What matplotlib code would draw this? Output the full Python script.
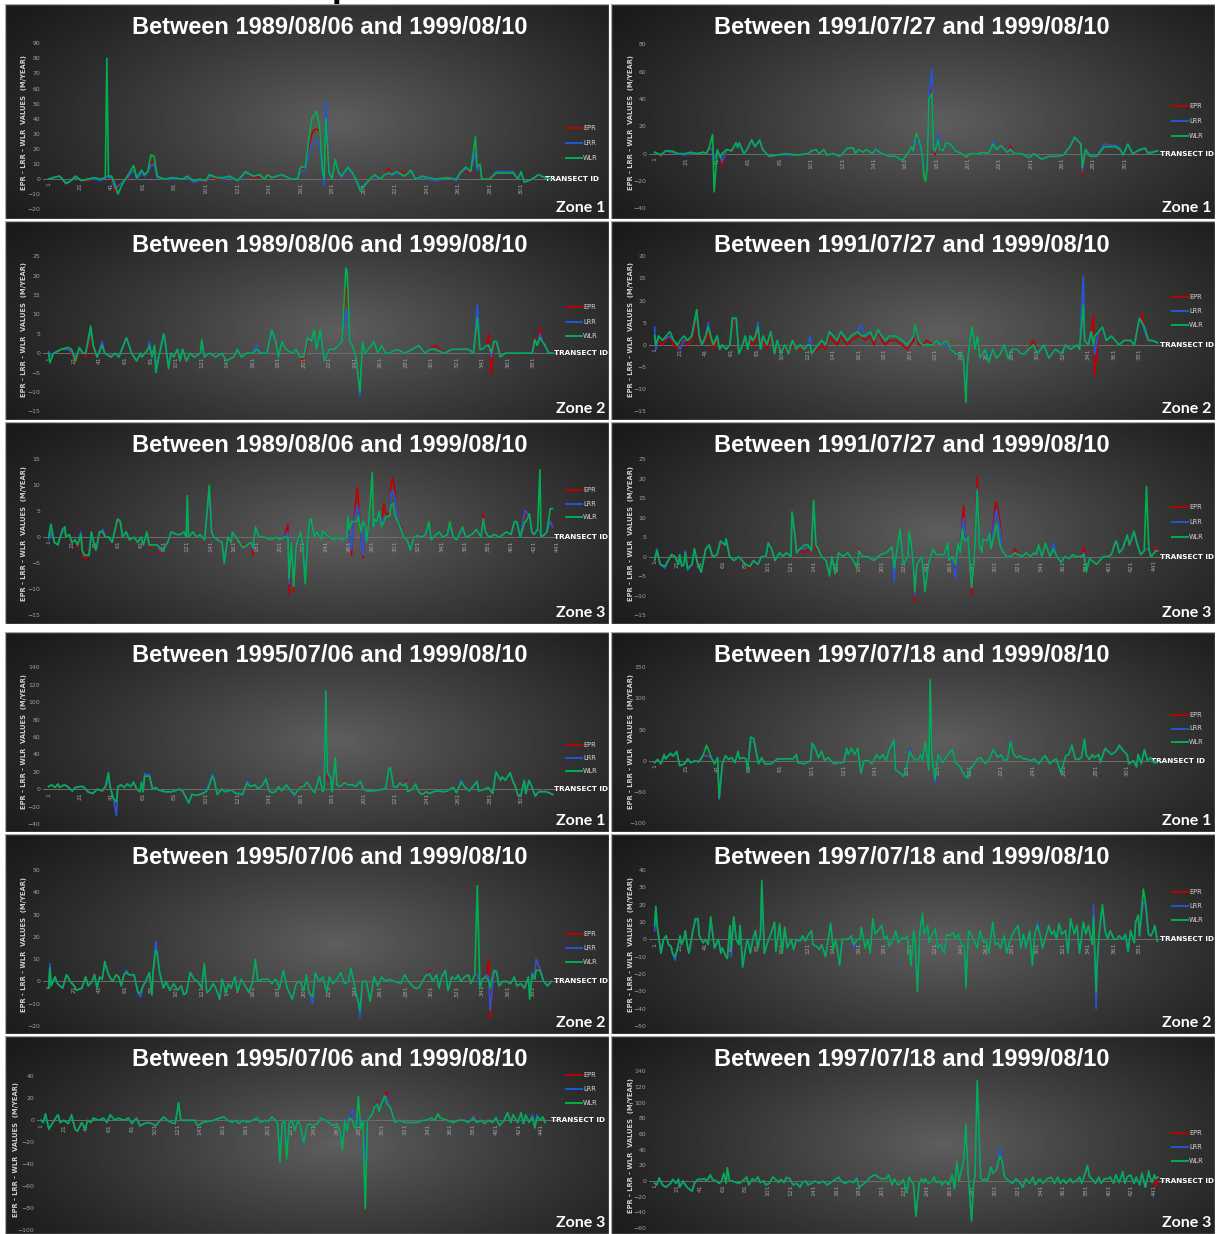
import numpy as np
import matplotlib
matplotlib.use("Agg")
import matplotlib.pyplot as plt
from matplotlib.lines import Line2D
from matplotlib.patches import Rectangle
import matplotlib.transforms as mtrans

# ---------------- DATA: rows are (transect id, EPR, LRR, WLR) ----------------
P1989_Z1 = [
    (1,0,0,0),(4,1,1,1),(8,2,2,2),(12,-3,-2,-3),(14,-2,-2,-2),(18,2,1,2),(22,-1,-1,-1),(26,-1,0,0),
    (30,0,0,1),(34,0,-1,0),(37,1,1,1),(38,2,2,80),(39,1,1,2),(41,0,1,2),(43,-8,-6,-3),(45,-4,-5,-10),
    (48,-2,-2,-3),(51,0,1,2),(55,7,6,9),(57,0,0,1),(60,5,4,6),(62,2,2,3),(64,6,5,5),(66,10,9,16),
    (68,14,10,15),(70,1,1,2),(74,0,0,0),(80,0,0,1),(86,0,0,0),(89,1,1,2),(93,-2,-2,-1),(97,-1,-1,0),
    (101,-2,-1,-1),(103,2,2,3),(108,0,1,1),(112,0,0,1),(116,1,1,2),(121,-1,-1,-1),(126,4,4,5),(131,1,2,2),
    (135,2,3,3),(138,0,0,0),(140,4,3,3),(143,1,1,1),(149,3,3,3),(155,0,0,0),(159,0,0,0),(161,6,5,8),
    (164,7,6,8),(168,30,24,40),(170,33,26,43),(171,33,26,45),(173,32,24,35),(175,5,3,5),(176,-2,-4,0),
    (177,30,52,40),(179,3,3,5),(181,0,0,0),(183,11,12,13),(185,4,4,5),(187,1,1,2),(191,7,7,8),(194,3,3,4),
    (196,0,0,0),(199,-7,-6,-8),(201,-4,-4,-5),(205,0,0,0),(208,3,2,3),(212,0,0,0),(214,3,2,3),(217,7,5,4),
    (219,3,2,3),(222,5,4,5),(227,4,2,2),(231,5,5,6),(234,0,0,0),(238,1,1,2),(242,1,0,1),(247,0,-1,0),
    (254,1,1,1),(260,0,-1,0),(262,3,3,4),(266,6,7,8),(269,4,5,5),(272,20,18,28),(273,7,6,8),(275,9,8,10),
    (276,0,0,0),(281,1,0,0),(285,4,5,4),(291,4,5,4),(296,5,5,4),(299,0,0,0),(301,4,4,5),(303,-2,-2,-2),
    (308,0,0,0),(312,3,3,3),(316,1,1,1),(320,0,0,0),
]

P1991_Z1 = [
    (1,1,1,1),(3,0,0,0),(5,-2,-1,-1),(8,2,2,2),(12,1,1,2),(16,0,0,0),(20,-1,-1,0),(24,1,0,1),(28,0,0,0),
    (32,1,1,1),(34,0,0,0),(36,4,4,5),(38,2,3,14),(39,-3,-4,-28),(41,2,2,3),(43,-3,-2,-3),(44,-9,-6,0),
    (47,3,3,3),(50,2,2,2),(53,7,7,8),(54,4,4,5),(55,7,7,8),(58,0,0,0),(60,3,3,3),(63,9,10,10),(65,5,5,5),
    (68,9,9,10),(70,3,3,3),(74,-2,-2,-2),(79,-1,-1,-1),(85,0,-1,0),(92,-1,-1,-1),(99,0,0,0),(101,2,2,2),
    (104,3,3,3),(106,0,0,0),(109,3,3,3),(111,-1,-1,-1),(115,0,0,0),(119,-2,-2,-2),(121,0,0,0),(124,4,4,4),
    (128,4,4,4),(129,0,0,0),(131,3,3,3),(134,1,1,1),(136,3,3,3),(140,0,0,0),(142,3,4,3),(146,0,0,0),
    (151,-2,-2,-2),(155,-2,-2,-2),(159,-5,-5,-5),(162,-1,-1,-1),(165,5,4,5),(166,2,2,2),(168,12,10,15),
    (171,5,4,5),(172,-3,-3,-3),(173,-10,-10,-18),(174,-9,-9,-20),(175,-10,-10,-10),(176,38,40,40),
    (178,50,62,44),(179,3,4,3),(180,-1,1,2),(182,12,14,10),(183,3,3,3),(185,2,2,2),(187,8,8,8),(190,7,6,7),
    (193,2,2,2),(197,0,0,0),(200,-4,-3,-3),(202,0,0,0),(207,0,0,0),(211,1,1,1),(214,0,0,0),(217,8,9,7),
    (219,3,3,3),(222,6,6,6),(226,1,1,1),(228,6,4,3),(231,0,0,0),(235,0,0,0),(240,-3,-3,-3),(243,0,0,0),
    (248,-4,-4,-4),(253,-2,-2,-2),(258,-2,-2,-2),(262,-1,-1,-1),(266,5,5,5),(269,10,11,12),(273,7,7,7),
    (274,-16,-13,-10),(276,3,3,3),(279,-2,-2,-2),(283,-2,-2,-2),(288,6,7,5),(293,5,6,5),(295,5,6,5),
    (298,3,4,3),(300,-1,-1,-1),(303,7,7,7),(306,0,0,0),(311,3,3,3),(314,4,4,4),(316,0,1,0),(322,2,2,2),
]

P1989_Z2 = [
    (1,0,0.5,0),(2,-1,-1,-2.5),(5,0,0,0),(11,1,1,1),(16,1,1,1.5),(19,0,0.5,1),(22,-2.5,-1,-2),(25,1,1,1.5),
    (28,0,0,0),(30,-1,0,0),(34,5,6,7),(36,1,2,2),(39,-1,-1,-1),(43,2,3,2),(45,0,0,0),(50,-1,-1,-1),
    (53,0,0,0),(56,-1,-1,-1),(62,4,4,4),(63,3,3,3),(66,0,0,0),(70,-2,-2,-2),(73,0,0,0),(74,-1,-1,-1),
    (79,1,1,1),(80,2,3,2),(82,-1,-1,-1),(84,2,2,2),(85,-3,-3,-5),(88,0,0,0),(91,4,4,5),(92,4,4,4),
    (95,-3,-3,-4),(97,0,0,0),(99,-1,-1,-1),(102,0,1,1),(104,-2,-2,-2),(106,1,1,1),(109,-2,-2,-2),
    (112,0,0,0),(115,-1,-1,-1),(120,0,0,0),(121,3,3,3.5),(123,-1,-1,-1),(127,0,0,0),(132,-1,-1,-1),
    (137,0,0,0),(140,-2,-2,-2),(146,-1,-1,-1),(149,1,1,1),(152,-1,-1,-1),(156,0,0,0),(161,0,0,0),
    (164,1,2,1),(167,0,0,0),(172,0,0,0),(176,5,5,6),(179,3,3,3),(181,-1,-1,-1),(184,3,3,3),(187,1,1,1),
    (192,0,0,0),(195,1,1,1),(198,-1,-1,-1),(201,-2,-1,-1),(204,3,4,4),(207,3,3,3),(209,5,5,6),(211,1,1,1),
    (214,5,5,6),(217,-2,-2,-2),(221,1,1,1),(225,1,1,1),(228,2,2,2),(231,3,3,3),(234,17,11,22),
    (235,16,11,21),(237,3,3,3),(239,2,2,2),(242,-1,-1,-1),(245,-9,-11,-10),(247,3,3,3),(249,0,0,0),
    (254,2,2,2),(256,3,3,3),(259,0,0,0),(262,2,2,2),(265,0,0,0),(268,0,0,0),(274,1,1,1),(280,0,0,0),
    (286,1,1,1),(291,2,2,2),(296,0,0,0),(300,1,1,1),(304,2,1,1),(311,0,0,0),(317,1,1,1),(323,1,1,1),
    (330,1,1,1),(334,0,0,0),(337,8,12.5,9),(339,1,1,1),(341,1,1,1),(344,2,2,2),(346,5,2,2),
    (348,-5.5,-1,0),(350,3,3,3),(352,3,3,3),(355,-1,-1,-1),(359,0,0,0),(365,0,0,0),(372,0,0,0),
    (378,0,0,0),(380,0,0,0),(382,4,3.5,3.5),(384,2,2,2),(386,6.5,5,4),(388,3,3,3),(390,2,2,2),
    (393,0,0,0),(396,0,0,0),
]

P1991_Z2 = [
    (1,2,4,2),(2,0,-1,0),(4,1,2,2),(7,0,1,1),(13,2,2,3),(16,0,1,1),(19,-1,0,0),(21,0,-1,1),(24,1,1,2),
    (27,0,1,1),(30,1,2,2),(34,6,7,8),(36,1,2,2),(38,0,0,0),(41,1,2,2),(43,3,5,4),(45,1,2,2),(47,-1,0,0),
    (50,1,2,2),(52,-1,-1,-1),(54,0,0,0),(57,-1,-1,-1),(60,0,0,0),(62,5,6,6),(65,5,6,6),(67,-2,-2,-2),
    (70,0,0,0),(72,1,2,2),(74,-1,-1,-1),(76,1,2,2),(78,0,1,1),(80,1,2,2),(82,3,5,4),(84,-1,-1,-1),
    (86,1,2,2),(89,-1,0,0),(92,2,3,3),(95,-2,-2,-2),(97,0,1,1),(100,-2,-2,-2),(103,-1,0,0),(106,-2,-2,-2),
    (109,0,1,1),(112,-1,-1,-1),(115,-1,0,0),(118,-1,-1,-1),(121,0,0,0),(123,1,2,0),(124,-2,-2,-2),
    (129,-1,0,0),(132,0,1,1),(135,-1,0,0),(138,2,3,3),(141,1,2,2),(144,0,1,1),(147,2,3,3),(152,0,1,1),
    (155,1,2,2),(160,2,3,3),(163,2,4.5,2),(166,1,2,2),(170,2,3,3),(173,0,1,1),(176,3,3,3.5),(179,1,2,2),
    (182,0,1,1),(185,1,2,2),(190,1,2,2),(195,0,1,1),(199,-1,0,0),(204,1,2,2),(205,4,4,4.5),(208,0,1,1),
    (211,0,0,0),(214,1,0,0),(219,0,0,0),(222,1,1,1),(225,0,0,0),(230,1,0,1),(233,-1,-1,-1),
    (237,-2,-2,-2),(242,-2,-2,-2),(243,-3,-3,-3),(245,-12,-11,-13),(246,-5,-5,-5),(248,1,1,1),
    (250,3,3,4),(252,-1,-1,-1),(254,2,2,2),(256,-3,-3,-3),(260,-1,-1,-1),(263,-4,-3,-4),(266,-1,-1,-1),
    (269,-3,-3,-3),(272,-2,-2,-2),(275,0,0,0),(278,-3,-3,-3),(281,-1,-1,-1),(285,-1,-1,-1),
    (288,-2,-2,-2),(291,-2,-2,-2),(294,-1,-1,-1),(298,1,0,0),(301,-2,-2,-2),(306,0,0,0),(310,-3,-3,-3),
    (315,-1,-1,-1),(320,-2,-2,-2),(323,0,0,0),(327,-1,-1,-1),(332,0,0,0),(334,-1,-1,-1),(337,9,15.5,9),
    (338,1,1,1),(341,0,0,0),(343,3,3,3),(345,6.5,1,0),(346,-7,-2,2),(349,3,3,3),(352,4,4,4),(355,1,1,1),
    (359,2,2,2),(362,1,1,1),(365,0,0,0),(369,1,1,1),(374,1,1,1),(377,0,0,0),(379,3,3,3),(381,5,6,6),
    (383,7,5,5),(385,4,3,4),(388,1,1,1),(391,1,1,1),(395,0.5,0.5,0.5),
]

P1989_Z3 = [
    (1,0,-0.5,0),(3,1,1,2.5),(6,-1,-1,-1),(9,-1.5,-1.5,-1.5),(11,0,0,0),(13,1,1,1.5),(15,1.5,1.5,2),
    (16,0,0,0),(19,0,0.5,0.5),(21,-1,-1,-1),(24,-0.5,-0.5,-0.5),(26,-2,-1.5,-1.5),(29,0,1,0.5),
    (30,-3,-2.5,-2.5),(32,-4.2,-3.5,-3.5),(36,-3.5,-3.5,-3.5),(38,1,1,1),(40,-1,-1,-1),(42,-2.5,-2.5,-2.5),
    (45,0.5,1,1),(48,1,1.5,1),(50,0,0,0),(53,0,0,0),(56,-1,-1,-1),(60,2.5,3,3),(61,3,3.5,3.5),(63,2.5,3,3),
    (65,0,0,0),(68,1,1,1),(71,-0.5,-0.5,-0.5),(75,0,0,0),(78,-1,-1,-1),(81,0,0,0),(83,-1.5,-1.5,-1.5),
    (86,1,1,1),(88,-2,-1.5,-1.5),(92,-1.5,-1.5,-1.5),(95,-1.5,-1.5,-1.5),(97,-3,-2.5,-2),(100,-2.5,-2.5,-2.5),
    (104,-1,-1,-1),(107,1,1,1),(112,0.5,0.5,0.5),(115,0.5,0.5,0.5),(118,1,1,1),(120,0,0,0),(121,7,7,8),
    (122,0,0,0),(126,1,1,1),(129,0,0,0),(132,0.5,0.5,0.5),(136,-0.5,-0.5,-0.5),(140,9,9,10),(142,1,1,1),
    (144,0,0,0),(147,-0.5,-0.5,-0.5),(151,-1,-1,-1),(153,-4,-4,-5),(156,0,0,0),(159,-1,-1,-1),(160,1,1,1),
    (163,0,0,0),(166,-1,-1,-1),(169,-1.5,-2,-2),(173,-1.5,-1.5,-1.5),(176,-1,-1,-1),(178,-3.5,-2.5,-2),
    (180,2,2,2),(183,0,0,0),(188,0,0,0),(193,-0.5,-0.5,-0.5),(198,0,0,0),(201,-0.5,-0.5,-0.5),(205,0,0,0),
    (208,2.5,1,0),(209,-11,-9,-8),(211,-1,-1,-1),(213,-10.5,-9.5,-9.5),(215,-2,-2,-2),(216,-1,-1,-1),
    (219,1,1,1),(221,-2,-2,-2),(223,-8,-8,-9),(225,-1,-1,-1),(227,3,3,3.5),(228,3,3,3.5),(231,0,0,0),
    (233,1,1,1),(237,-0.5,-0.5,-0.5),(238,1.2,1.2,1.2),(241,0.5,0.5,0.5),(243,0.2,0.2,0.2),
    (247,-0.5,-0.5,-0.5),(252,0,0,0),(255,-0.5,-0.5,-0.5),(259,0,0,0),(260,3,3,4),(261,1.5,1.5,1.5),
    (263,-3.5,-2.5,3),(265,3,3,3),(268,9.5,6,3),(269,7,5.5,4),(271,1,1,1),(273,-4,-3.5,3),(275,2,2,2),
    (276,-1,-1,-1),(278,3,3,3),(281,3,3,12.5),(282,2,2,2),(283,3.5,3.5,3.5),(285,3,3,3),(287,5,5,5),
    (289,2,2,2),(291,6.5,4,3),(293,4,4,4),(296,5,4,4),(297,10,8.5,6),(299,11.5,9,6.5),(301,8,7,4),
    (303,3,3,3),(306,2,1.5,1.5),(308,0,0,0),(311,-0.5,-0.5,-0.5),(314,-2,-2,-2.5),(317,0,0,0),
    (320,0.3,0.3,0.3),(324,0,0,0),(327,0.5,0.5,0.5),(330,2,2,3),(332,-0.5,-0.5,-0.5),(336,0.5,0.5,0.5),
    (339,1,1,1),(342,0,0,0),(346,0.5,0.5,0.5),(348,3,2.5,3),(351,0,0,0),(354,-0.5,-0.5,-0.5),(359,2,1.5,2),
    (362,0,0,0),(367,0.5,0.5,0.5),(371,1.5,1.5,1.5),(375,0,0,0),(377,4.5,3.5,3.5),(379,1,1,1),(382,0,0,0),
    (387,0.5,0.5,0.5),(391,0,0,0),(394,0.5,0.5,0.5),(397,1,1,1),(401,0.5,0.5,0.5),(404,3,3,3),(406,3,3,3),
    (409,0,0,0),(413,4,5,3),(414,4.5,5,3),(417,4,4,4.5),(419,1,1,1),(421,0.5,0.5,0.5),(424,1.5,1.5,1.5),
    (426,1,1,13),(427,0,0,0),(430,0.5,0.5,0.5),(432,1,1,1),(435,3,3,5.5),(437,2.5,2,5.5),
]

P1991_Z3 = [
    (1,-1,-1,-1),(3,1,2,1.5),(6,-2,-2,-2),(10,-2.5,-3,-2.5),(13,-1,-1,-1),(16,0.5,0.5,0.5),(19,0,0,0),
    (22,-2,-2,-2),(23,0.5,0.5,0.5),(25,-2.5,-2.5,-2.5),(27,-2,-2,-2),(28,1,1.5,1),(30,-3,-3.5,-3),
    (34,-2,-2,-2),(36,2,2,2),(39,-2,-2,-2),(42,-4,-4,-4),(46,2,2,2),(49,3,3,3),(52,0,0,0),(56,0.5,0.5,0.5),
    (59,3.5,4,4),(63,3,3,3),(64,4,4.5,4.5),(67,0,0,0),(71,-1,-1,-1),(75,0,0,0),(78,-1,-1,-1),(81,-2,-2,-2),
    (85,-3,-2.5,-2.5),(88,-1,-1,-1),(92,-2,-2,-2),(95,0,0,0),(99,0,0,0),(101,3,3.5,3.5),(104,2,2,2),
    (107,-1,-1,-1),(111,1,1,1),(114,0,0,0),(117,1,1,1),(121,0,0,0),(122,10,10.5,11.5),(124,6,6.5,7),
    (126,1,1,1),(129,1.5,2,2),(133,1,2,3),(136,2,2.5,3),(139,1,1.5,1.5),(141,13,13.5,14.5),(143,2,3,3),
    (145,1.5,2,2),(148,0,0,0),(152,-1,-1,-1),(155,-4.5,-4.5,-5),(157,0,0,0),(160,-5,-4.5,-4.5),(163,1,1,1),
    (167,0,0,0),(171,1,1,1),(176,-1,-1,-1),(179,-3.5,-3,-3),(181,2,1.5,1.5),(184,0,0,0),(189,0,0,0),
    (194,-1,-1,-1),(200,0.5,0.5,0.5),(205,1,1,1),(210,2.5,2.5,2.5),(212,-5,-6.5,-3),(213,-1,-1,-1),
    (217,6.5,6.5,7),(220,-2,-2,-2),(224,0,0,0),(225,6,6,6.5),(227,3,3,3),(229,-3,-3,-3),(230,-11.5,-10,-9),
    (232,-2,-2,-2),(236,0,0,0),(237,-2,-2,-2),(239,-8.5,-8,-9),(242,-2,-2,-2),(244,0,0,0),(246,2,2,2),
    (249,0.5,0.5,0.5),(253,0.5,0.5,0.5),(256,0.5,0.5,0.5),(259,3,3,3.5),(260,-1,-1,-1),(263,0,0,0),
    (266,-4,-5.5,-2),(268,3.5,3.5,3.5),(270,1,1,1),(272,9.5,8,7),(273,13,10,4.5),(275,4,4,4),(277,5,5,5),
    (278,0,0,0),(280,-10,-8,-8),(282,-2,-2,-2),(283,3,3,3),(285,20.5,17.5,17),(287,3,3,3),(289,1,1,1),
    (290,4.5,4.5,4.5),(294,4,4,4),(296,6,6.5,6),(297,2,2,2),(301,13.5,11,7),(302,14,12,8.5),(305,9,7,3),
    (307,1.5,1.5,1.5),(311,0,0,0),(314,0,0,0),(318,2,1,1),(321,0.5,0.5,0.5),(325,0,0,0),(328,1,1,1),
    (332,0,0,0),(335,1,1,1),(337,0.5,0.5,0.5),(339,2.5,2.5,3),(342,0,0,0),(345,3,3,3.5),(349,0,0,0),
    (352,2.5,3.5,2),(355,0,0,0),(359,-1.5,-1.5,-1.5),(362,0,0,0),(366,-0.5,-0.5,-0.5),(369,0.5,0.5,0.5),
    (372,0,0,0),(376,0,0,0),(379,2.5,1,0.5),(381,-3.5,-3.5,-4),(384,-0.5,-0.5,-0.5),(386,-1,-1,-1),
    (390,-2,-2,-2),(393,-1,-1,-1),(396,0,0,0),(400,0,0,0),(403,0.5,0.5,0.5),(407,3.5,4,4),(408,3,3.5,3.5),
    (410,1,1,1),(413,2,2,2),(417,5,5.5,5.5),(419,3,3,3),(423,6,6,6.5),(426,3,3,3),(429,0.5,0.5,0.5),
    (432,1.5,1.5,1.5),(434,2,2,18),(436,2,2,2),(438,0,0,0),(441,1,1,1),(442,2.5,1.5,1.5),(444,1.5,1.5,1.5),
]

P1995_Z1 = [
    (1,3,3,3),(3,5,5,5),(5,2,2,2),(7,5,6,6),(8,2,2,2),(11,5,5,5),(13,3,3,3),(16,-2,-2,-2),(18,2,2,2),
    (21,3,3,3),(23,3,3,3),(26,-3,-3,-3),(29,-5,-5,-5),(32,0,0,0),(35,-3,-2,-2),(37,1,2,3),(39,10,12,19),
    (40,2,3,3),(42,-10,-10,-10),(44,-28,-30,-15),(45,2,3,3),(47,4,5,5),(49,2,2,2),(51,5,6,6),(53,3,3,3),
    (55,7,8,8),(57,0,0,0),(59,-4,-3,-3),(60,7,8,8),(61,-3,-3,-3),(62,15,18,15),(65,14,16,15),(67,0,0,0),
    (69,2,2,2),(71,-1,-1,-1),(75,-3,-3,-3),(79,-3,-3,-3),(84,0,0,0),(86,-2,-2,-2),(90,-15,-15,-16),
    (92,-6,-6,-6),(95,-7,-7,-7),(97,-6,-6,-6),(100,-4,-4,-4),(102,-1,2,-1),(105,15,17,15),(106,12,13,12),
    (108,-6,-6,-6),(111,0,0,0),(113,-3,-3,-3),(117,-1,-1,-1),(120,-5,-5,-5),(122,-5,-5,-5),(124,-6,-7,-6),
    (127,7,9,7),(129,3,3,3),(132,5,5,5),(134,0,0,0),(137,5,5,5),(139,10,10,12),(141,-2,-2,-2),
    (143,-4,-4,-4),(145,-3,-3,-3),(147,3,3,3),(149,-2,-2,-2),(152,4,5,5),(154,0,0,0),(157,-6,-8,-6),
    (159,-2,-2,-2),(161,5,3,3),(163,3,3,3),(165,7,8,8),(168,0,0,0),(170,-4,-4,-4),(173,14,15,15),
    (175,-3,-3,-3),(176,0,0,0),(177,110,112,113),(178,12,18,20),(180,10,12,14),(181,-3,-3,-3),
    (183,28,30,36),(184,5,5,5),(186,3,3,3),(189,10,8,8),(191,5,5,5),(194,5,5,5),(196,3,3,3),(199,8,8,9),
    (201,0,0,0),(203,-2,-2,-2),(207,-2,-2,-2),(211,-1,-1,-1),(215,1,1,1),(217,22,22,23),(218,24,24,25),
    (220,3,3,3),(222,2,2,2),(224,7,7,7),(226,4,4,4),(228,11,8,6),(229,-3,-3,-3),(232,0,0,0),(234,6,6,6),
    (236,-3,-3,-3),(238,-6,-6,-6),(241,-3,-3,-3),(243,-5,-5,-5),(245,-3,-3,-3),(248,-2,-2,-2),
    (252,-3,-3,-3),(254,-2,-2,-2),(258,2,2,2),(260,-4,-4,-4),(263,8,10,8),(265,3,3,3),(268,-2,-2,-2),
    (270,2,2,2),(273,9,9,9),(274,-2,-2,-2),(278,0,0,0),(280,2,2,2),(283,-5,-5,-5),(285,19,19,20),
    (288,10,11,10),(289,13,14,14),(291,10,11,10),(294,18,18,19),(296,8,8,8),(297,5,5,5),(299,-7,-7,-7),
    (301,-6,-6,-6),(303,10,10,10),(304,-5,-5,-5),(306,10,10,10),(308,2,2,2),(310,-8,-8,-8),(312,-3,-3,-3),
    (315,-1,-2,-3),(317,-3,-3,-3),(321,-6,-6,-6),
]

P1997_Z1 = [
    (1,-3,-3,-3),(3,2,2,2),(5,-5,-5,-5),(7,9,9,10),(8,3,3,3),(11,10,10,12),(13,7,7,8),(15,14,14,15),
    (17,-8,-8,-8),(20,-5,-5,-5),(22,3,3,3),(24,-3,-3,-3),(27,0,0,0),(29,-2,-2,-2),(32,8,8,10),(34,10,8,25),
    (37,5,5,5),(39,-5,-5,-5),(41,5,5,5),(42,-62,-62,-60),(44,-5,-5,-5),(46,8,8,8),(48,2,2,2),(50,5,5,5),
    (52,-3,-3,-3),(54,13,13,15),(55,3,3,3),(57,5,5,5),(59,3,3,3),(60,-15,-15,-15),(62,30,30,38),
    (64,30,30,35),(67,-5,-5,-5),(69,5,5,5),(71,-5,-5,-5),(75,-5,-5,-5),(79,3,3,3),(84,3,3,3),(89,3,3,3),
    (91,8,8,10),(92,-3,-3,-3),(96,-5,-5,-5),(100,0,0,0),(101,25,25,28),(103,18,18,20),(105,5,5,5),
    (107,13,13,15),(109,0,0,0),(111,5,5,5),(115,-5,-5,-5),(118,-3,-3,-3),(121,-3,-3,-3),(123,15,15,20),
    (124,10,10,10),(126,18,18,20),(128,12,12,10),(130,18,18,20),(132,-18,-18,-20),(134,0,0,0),(137,0,0,0),
    (139,-5,-5,-5),(142,8,8,10),(144,3,3,3),(146,8,8,10),(148,0,0,0),(150,15,15,18),(153,30,30,33),
    (154,-15,-15,-15),(157,-20,-20,-20),(159,-25,-25,-25),(161,-10,-10,-10),(163,20,20,15),(165,5,5,5),
    (168,0,0,0),(170,10,10,10),(171,0,0,0),(173,25,25,30),(175,-12,-12,-15),(176,120,120,130),
    (177,10,10,10),(179,-36,-36,-30),(181,10,10,10),(184,-3,-3,-3),(186,5,5,5),(189,14,14,15),
    (190,17,17,18),(192,-3,-3,-3),(195,-10,-10,-10),(198,-22,-22,-25),(200,-28,-28,-28),(201,-12,-12,-15),
    (204,-5,-5,-5),(206,3,3,3),(208,5,5,5),(211,-5,-5,-5),(214,5,5,5),(216,16,16,18),(219,5,5,5),
    (221,10,10,10),(223,0,0,0),(225,2,2,2),(227,30,32,30),(229,10,10,10),(231,5,5,5),(233,8,8,8),
    (235,3,3,3),(237,3,3,3),(240,0,0,0),(242,3,3,3),(245,-5,-5,-5),(247,3,3,3),(249,8,8,8),(252,-5,-5,-5),
    (254,0,0,0),(256,3,3,3),(259,-18,-18,-20),(262,8,8,8),(264,10,10,10),(266,22,22,25),(268,3,3,3),
    (270,2,2,2),(272,5,5,5),(274,30,30,35),(275,10,10,10),(277,2,2,2),(279,10,10,10),(280,5,5,5),
    (283,10,10,10),(284,-3,-3,-3),(287,18,18,20),(289,15,15,15),(291,10,10,10),(294,15,15,15),
    (296,22,22,25),(299,15,15,15),(301,10,10,10),(302,-5,-5,-5),(305,0,0,0),(307,-10,-10,-10),
    (308,10,10,10),(310,-5,-5,-5),(312,16,16,18),(314,0,0,0),(316,5,5,5),(318,-3,-3,-3),(320,-3,-3,-3),
]

P1995_Z2 = [
    (1,-3,-3,-3),(2,5,8,6),(3,-2,-2,-2),(6,2,2,2),(8,-1,-1,-1),(12,-3,-3,-3),(15,3,3,3),(18,0,0,0),
    (21,-2,-2,-2),(23,-4,-4,-4),(27,-3,-3,-3),(30,2,2,2),(32,-2,-2,-2),(35,0,0,0),(37,4,3,3),(39,-3,-3,-3),
    (41,2,2,2),(43,1,1,1),(45,8,8,9),(48,3,3,3),(51,0,0,0),(54,3,3,3),(56,2,2,2),(58,-2,-2,-2),(60,3,3,3),
    (62,4,5,4),(64,3,3,3),(68,3,3,3),(71,-5,-5,-5),(73,-6,-7,-5),(75,-2,-2,-2),(77,0,0,0),(80,4,4,4),
    (82,-6,-6,-6),(83,5,5,5),(85,16,18,14),(86,13,13,13),(88,4,4,4),(91,-3,-3,-3),(93,0,0,0),(96,-4,-4,-4),
    (99,-1,-1,-1),(102,-4,-4,-4),(105,-2,-2,-2),(107,-6,-6,-6),(109,-5,-5,-5),(112,4,4,4),(115,1,1,1),
    (118,0,0,0),(121,-3,-3,-3),(123,7,7,8),(125,-5,-5,-5),(127,-4,-4,-4),(130,-1,-1,-1),(132,-3,-3,-3),
    (135,-8,-8,-8),(137,1,1,1),(140,-5,-5,-5),(142,-1,-1,-1),(144,-3,-3,-3),(147,2,2,2),(149,-6,-5,-5),
    (152,1,1,1),(155,-2,-2,-2),(158,-5,-5,-5),(161,0,0,0),(163,9,9,10),(165,0,0,0),(168,1,1,1),(170,1,1,1),
    (173,1,1,1),(176,-1,-1,-1),(179,1,1,1),(182,-3,-3,-3),(185,5,5,5),(188,-3,-3,-3),(192,-8,-8,-8),
    (195,-1,-1,-1),(198,0,0,0),(201,-4,-4,-4),(203,3,3,3),(205,-5,-5,-5),(208,-8,-10,-7),(210,4,4,4),
    (213,0,0,0),(216,2,2,2),(219,-5,-5,-5),(221,2,2,2),(224,-1,-1,-1),(227,1,1,1),(230,4,4,4),
    (233,-1,-1,-1),(236,0,0,0),(238,5,5,6),(241,-3,-3,-3),(244,-10,-10,-10),(245,-14,-16,-13),(247,0,0,0),
    (250,0,0,0),(253,-8,-8,-9),(256,2,2,2),(259,-2,-2,-2),(262,2,2,2),(265,0,0,0),(268,1,1,1),(272,0,0,0),
    (277,-1,-1,-1),(280,3,3,3),(283,0,0,0),(288,-3,-3,-3),(291,-3,-3,-3),(294,0,0,0),(297,3,3,3),
    (300,5,4,3),(302,0,0,0),(305,3,3,3),(307,-3,-3,-3),(309,2,2,2),(312,4,4,5),(314,-4,-4,-4),(317,2,2,2),
    (320,1,1,1),(322,3,3,3),(324,0,0,0),(327,2,2,2),(330,3,3,3),(332,-1,-1,-1),(335,3,3,3),(337,3,3,43),
    (339,-3,-3,-3),(341,1,1,1),(344,2,3,2),(346,10,2,0),(347,-17,-13,-3),(350,4,4,5),(352,4,5,4),
    (354,-2,-2,-2),(357,0,0,0),(360,0,0,0),(363,-1,-1,-1),(366,2,2,2),(368,-2,-2,-2),(371,-1,-1,-1),
    (374,-3,-3,-3),(377,2,2,2),(378,-6,-6,-8),(380,3,4,3),(382,1,1,1),(383,9,10,5),(386,5,6,5),(389,0,0,0),
    (392,-2,-2,-2),(395,0,0,0),
]

P1997_Z2 = [
    (1,5,5,8),(2,17,17,19),(3,7,7,8),(6,-8,-8,-8),(8,0,0,0),(10,2,2,2),(12,-3,-3,-3),(14,-5,-5,-4),
    (15,-8,-8,-8),(17,-11,-12,-10),(19,-5,-5,-5),(21,2,2,2),(22,-3,-3,-3),(24,0,0,0),(25,5,5,5),(27,-5,-5,-5),
    (28,-8,-8,-8),(31,5,5,5),(33,11,11,12),(35,11,11,12),(36,2,2,2),(39,-2,-2,-2),(41,0,0,0),(43,-3,-3,-3),
    (45,11,11,13),(47,0,0,0),(48,-5,-5,-5),(51,0,0,0),(53,-8,-8,-8),(54,-5,-5,-5),(57,-10,-10,-10),
    (58,-11,-11,-11),(60,7,7,8),(61,-9,-10,-5),(63,12,12,13),(65,0,0,0),(67,-3,-3,-3),(68,8,8,8),
    (70,-15,-15,-16),(73,-2,-2,-2),(74,0,0,0),(76,-8,-8,-8),(78,0,0,0),(80,5,5,5),(82,-5,-5,-5),(84,3,3,3),
    (85,30,30,34),(87,-8,-8,-8),(89,-3,-3,-3),(92,3,3,3),(95,9,9,10),(96,-7,-7,-7),(99,8,8,9),(101,-8,-8,-8),
    (103,7,7,7),(105,-5,-5,-5),(108,0,0,0),(110,-6,-6,-6),(112,0,0,0),(115,-1,-1,-1),(117,2,2,2),
    (119,-1,-1,-1),(121,2,2,2),(124,5,5,5),(125,-3,-3,-3),(128,-4,-4,-4),(130,-6,-6,-6),(132,-3,-3,-3),
    (135,-10,-10,-10),(137,0,0,0),(139,10,10,9),(141,-6,-6,-6),(143,0,0,0),(146,-14,-14,-15),(148,0,0,0),
    (150,0,0,0),(153,0,0,0),(155,2,2,2),(157,-5,-5,-3),(160,0,0,0),(162,0,0,0),(163,7,7,7),(166,-5,-5,-5),
    (168,0,0,0),(170,-8,-8,-8),(172,11,11,12),(174,3,3,3),(176,5,5,5),(179,8,8,8),(181,0,0,0),(183,2,2,2),
    (185,-4,-4,-4),(188,0,0,0),(190,5,5,5),(192,-2,-2,-2),(195,1,1,1),(197,0,0,0),(199,2,2,2),
    (202,-14,-14,-15),(204,5,5,5),(205,0,0,0),(207,-28,-28,-30),(209,5,5,5),(211,14,14,15),(212,3,3,3),
    (215,8,8,8),(216,-2,-2,-2),(218,2,2,2),(221,6,6,6),(223,-5,-5,-5),(225,-3,-3,-3),(228,-8,-8,-8),
    (230,3,3,3),(232,2,2,2),(235,4,4,4),(237,0,0,0),(239,3,3,3),(241,-2,-2,-2),(244,-5,-5,-5),
    (245,-27,-27,-28),(247,5,5,5),(249,3,3,3),(252,-2,-2,-2),(254,-5,-5,-5),(256,5,5,5),(259,-2,-2,-2),
    (261,-1,-1,-1),(263,-8,-8,-8),(266,9,9,10),(268,-3,-3,-3),(270,-2,-2,-2),(272,-5,-5,-5),(275,2,2,2),
    (277,-8,-8,-8),(279,-2,-2,-2),(281,2,2,2),(283,5,5,5),(286,8,8,8),(288,-5,-5,-5),(290,3,3,3),
    (292,-5,-5,-5),(295,5,5,5),(297,-14,-14,-15),(299,3,3,3),(301,9,10,8),(303,3,3,3),(305,-5,-5,-5),
    (307,0,0,0),(310,8,8,8),(312,3,3,3),(314,5,5,5),(316,0,0,0),(318,9,9,9),(320,3,3,3),(323,5,5,5),
    (325,-8,-8,-8),(327,11,11,12),(330,3,3,3),(332,8,8,8),(334,-8,-8,-8),(337,10,10,10),(339,3,3,3),
    (341,8,8,8),(344,-3,-3,-3),(345,18,20,13),(347,-38,-40,-30),(348,-14,-15,-10),(350,8,8,8),
    (352,18,18,20),(354,5,5,5),(356,0,0,0),(358,5,5,5),(361,0,0,0),(363,0,0,0),(365,2,2,2),(368,0,0,0),
    (370,3,3,3),(372,-7,-7,-7),(374,5,5,5),(377,-2,-2,-2),(378,10,10,10),(380,13,13,14),(381,2,2,2),
    (384,23,22,29),(386,19,19,20),(388,3,3,3),(390,2,2,2),(392,5,5,5),(393,8,8,8),(395,-1,-1,-1),
]

P1995_Z3 = [
    (1,0,0,0),(3,-2,-2,-2),(5,5,5,6),(8,-8,-8,-8),(11,-3,-3,-3),(14,2,2,2),(16,5,5,5),(18,-2,-2,-2),
    (21,0,0,0),(25,-3,-3,-3),(28,4,4,5),(31,-8,-8,-8),(33,-10,-10,-10),(37,-2,-2,-2),(40,-8,-8,-8),
    (42,0,0,0),(45,-2,-2,-2),(47,2,2,2),(52,0,0,0),(56,2,2,2),(59,-2,-2,-2),(62,5,5,5),(66,0,0,0),
    (69,2,2,2),(74,0,0,0),(78,2,2,2),(81,-3,-3,-3),(85,3,2,2),(88,-5,-5,-5),(92,-3,-3,-3),(95,-2,-2,-2),
    (98,-3,-3,-3),(102,-3,-4,-5),(105,-1,-1,-1),(109,3,3,3),(112,0,0,0),(116,-2,-2,-2),(119,-3,-3,-3),
    (122,14,14,16),(124,0,0,0),(128,0,0,0),(133,0,0,0),(136,0,0,0),(139,-5,-5,-5),(143,-2,-2,-2),
    (148,-1,-1,-1),(153,0,0,0),(158,2,2,2),(162,3,3,3),(165,0,0,0),(169,-2,-2,-2),(172,0,0,0),
    (175,-3,-3,-3),(179,0,0,0),(182,-2,-2,-2),(187,0,0,0),(191,2,2,2),(194,-2,-2,-2),(198,0,0,0),
    (201,-1,-1,-1),(204,3,3,3),(207,0,0,0),(209,-3,-3,-3),(211,-30,-32,-38),(213,-3,-3,-3),(215,0,0,0),
    (217,-28,-30,-35),(219,-3,-3,-3),(222,0,0,0),(224,-10,-10,-10),(227,0,0,0),(229,-5,-5,-5),
    (232,-20,-22,-20),(235,-5,-5,-5),(237,-3,-3,-3),(240,-5,-5,-5),(244,-3,-3,-3),(247,2,2,2),(251,0,0,0),
    (254,-2,-2,-2),(257,-5,-5,-5),(261,-3,-3,-3),(264,-10,-10,-10),(266,-22,-22,-27),(268,1,2,0),
    (270,-8,-8,-10),(272,2,2,2),(275,8,10,0),(276,-5,-5,-5),(278,-6,-6,-8),(280,3,3,22),(282,-8,-8,-8),
    (284,0,0,0),(286,-40,-40,-80),(288,0,0,0),(292,5,5,5),(294,12,12,12),(297,18,16,14),(298,8,8,8),
    (301,17,17,17),(303,20,20,22),(305,26,22,15),(308,12,12,12),(310,5,5,5),(312,-2,-2,-2),(316,0,0,0),
    (321,-2,-2,-2),(326,-2,-2,-2),(332,-2,-2,-2),(337,0,0,0),(340,0,0,0),(344,2,2,2),(347,0,0,0),
    (350,5,5,6),(352,2,2,2),(358,0,0,0),(363,-2,-2,-2),(368,0,0,0),(373,0,0,0),(376,-2,-2,-2),(379,0,0,0),
    (381,5,4,2),(384,-2,-2,-2),(388,0,0,0),(391,-3,-3,-3),(394,0,0,0),(398,-2,-2,-2),(401,2,3,2),
    (404,-5,-5,-5),(408,0,0,0),(411,6,6,7),(414,-2,-2,-2),(416,5,5,5),(420,-2,-2,-2),(423,6,6,7),
    (425,-3,-3,-3),(427,5,5,5),(430,-2,-2,-2),(433,4,5,3),(435,-6,-6,-7),(437,4,5,3),(440,0,0,0),
    (442,3,3,3),(444,-2,-2,-2),
]

P1997_Z3 = [
    (1,-3,-3,-3),(3,-5,-5,-5),(5,3,3,4),(8,-5,-5,-5),(11,-8,-8,-8),(15,-3,-3,-3),(17,2,2,2),(20,-3,-3,-3),
    (22,2,3,2),(23,-8,-8,-8),(26,0,0,0),(28,-5,-5,-5),(31,-10,-10,-10),(34,-13,-13,-13),(36,-3,-3,-3),
    (39,2,2,2),(42,2,2,2),(45,3,3,3),(47,0,0,0),(50,7,7,8),(52,2,2,2),(55,0,0,0),(58,-3,-3,-3),(60,0,0,0),
    (62,9,9,10),(64,-3,-3,-3),(65,15,15,17),(67,0,0,0),(69,0,0,0),(73,-2,-2,-2),(76,-3,-3,-3),(80,2,2,2),
    (82,5,5,5),(84,-5,-5,-5),(87,3,3,3),(89,0,0,0),(92,5,5,5),(94,-2,-2,-2),(97,0,0,0),(99,-5,-5,-5),
    (102,-3,-3,-3),(105,5,5,5),(107,3,3,3),(110,-2,-2,-2),(112,2,2,2),(115,-2,-2,-2),(117,4,5,4),
    (120,3,3,3),(123,-5,-5,-5),(126,-3,-3,-3),(129,-8,-8,-8),(131,-2,-2,-2),(134,0,0,0),(136,-5,-5,-5),
    (139,-3,-3,-3),(142,0,0,0),(146,-3,-3,-3),(149,0,0,0),(153,-5,-5,-5),(156,-2,-2,-2),(160,2,2,2),
    (163,5,5,5),(165,0,0,0),(169,-3,-3,-3),(172,0,0,0),(176,-2,-2,-2),(179,4,5,3),(181,-8,-8,-8),
    (184,-5,-5,-5),(188,0,0,0),(191,5,5,5),(195,8,8,8),(200,3,3,3),(205,3,3,3),(207,8,8,8),(210,-5,-5,-5),
    (212,3,3,3),(215,-5,-5,-5),(218,-3,-3,-3),(220,2,2,2),(223,-15,-15,-15),(225,5,5,5),(227,0,0,0),
    (229,-5,-5,-5),(231,-42,-42,-45),(234,-3,-3,-3),(236,3,3,3),(238,-2,-2,-2),(239,3,3,3),(242,-3,-3,-3),
    (245,0,0,0),(247,5,5,5),(249,-2,-2,-2),(252,0,0,0),(254,-5,-5,-5),(257,0,0,0),(260,-5,-5,-5),
    (263,8,8,8),(265,-10,-10,-10),(267,22,22,25),(269,0,0,0),(272,18,18,20),(273,22,22,25),(275,70,70,73),
    (277,10,10,10),(280,-50,-52,-50),(282,0,0,0),(283,5,5,5),(285,120,120,128),(288,5,5,5),(290,0,0,0),
    (292,3,3,3),(294,0,0,0),(297,16,15,18),(299,10,10,10),(302,15,15,15),(305,38,42,32),(307,22,25,25),
    (309,5,5,5),(313,0,0,0),(316,-3,-3,-3),(319,3,3,3),(323,-3,-3,-3),(325,-8,-8,-8),(328,3,3,3),
    (331,-3,-3,-3),(334,5,5,5),(336,-5,-5,-5),(340,3,3,3),(343,-3,-3,-3),(346,2,2,2),(350,5,5,5),
    (353,-3,-3,-3),(356,5,5,5),(358,-3,-3,-3),(361,2,2,2),(363,-3,-3,-3),(367,3,3,3),(369,-2,-2,-2),
    (372,0,0,0),(375,5,5,5),(377,-3,-3,-3),(380,10,10,10),(382,17,17,20),(384,5,5,5),(386,3,3,3),
    (389,-3,-3,-3),(392,5,5,5),(394,-3,-3,-3),(397,3,3,3),(400,3,3,3),(402,5,5,5),(405,-3,-3,-3),
    (407,8,8,8),(410,-2,-2,-2),(413,10,10,12),(415,-3,-3,-3),(417,5,5,5),(420,8,8,8),(423,-3,-3,-3),
    (425,5,5,5),(428,-5,-5,-5),(430,10,10,10),(433,-8,-8,-8),(436,10,10,13),(437,5,5,5),(439,-2,-2,-2),
    (441,8,8,8),(442,-8,3,3),(444,5,5,5),
]

PANEL_DATA = [P1989_Z1, P1991_Z1, P1989_Z2, P1991_Z2, P1989_Z3, P1991_Z3,
              P1995_Z1, P1997_Z1, P1995_Z2, P1997_Z2, P1995_Z3, P1997_Z3]
TITLES = ["Between 1989/08/06 and 1999/08/10", "Between 1991/07/27 and 1999/08/10"] * 3 + \
         ["Between 1995/07/06 and 1999/08/10", "Between 1997/07/18 and 1999/08/10"] * 3
ZONES = ["Zone 1", "Zone 1", "Zone 2", "Zone 2", "Zone 3", "Zone 3"] * 2
# y axis (min, max, step)
Y_AXES = [(-20, 90, 10), (-40, 80, 20), (-15, 25, 5), (-15, 20, 5), (-15, 15, 5), (-15, 25, 5),
          (-40, 140, 20), (-100, 150, 50), (-20, 50, 10), (-50, 40, 10), (-100, 40, 20), (-60, 140, 20)]
X_LAST_TICK = [301, 301, 381, 381, 441, 441, 301, 301, 381, 381, 441, 441]
SERIES_NAMES = ["EPR", "LRR", "WLR"]
SERIES_COLORS = ["#c00000", "#2457d6", "#00b050"]

# ---------------- LAYOUT (pixels) ----------------
W, H = 1216, 1234
COLS = [(5, 609), (611, 1215)]
ORIG = [0, 606]
ROWS = [(4, 219), (221, 420), (422, 624), (632, 832), (834, 1034), (1036, 1234)]
# per panel: first point px (rel origin), px per transect, top px, bottom px,
#            legend y0, legend dy, tick-label right edge, "TRANSECT ID" x
GEOM = [
    (48.6, 1.575, 43.3, 209.3, 128, 15, 41, 545),
    (48.6, 1.567, 44.3, 208.3, 106, 15, 41, 554),
    (48.6, 1.276, 256.3, 411.3, 307, 14.5, 41, 554),
    (48.6, 1.276, 256.3, 411.3, 297, 14, 41, 554),
    (48.6, 1.156, 459.3, 615.0, 490, 13.5, 41, 554),
    (48.6, 1.136, 459.3, 615.0, 507, 15, 41, 554),
    (48.6, 1.575, 667.3, 824.0, 745, 13, 41, 554),
    (48.6, 1.575, 667.3, 823.0, 715, 13.5, 41, 545),
    (48.6, 1.276, 870.0, 1026.0, 934, 14, 41, 554),
    (48.6, 1.276, 870.0, 1026.0, 892, 14, 41, 554),
    (40.9, 1.138, 1076.3, 1230.3, 1075, 14, 35, 551),
    (48.6, 1.136, 1071.3, 1228.0, 1133, 14, 41, 554),
]

fig = plt.figure(figsize=(W / 100, H / 100), dpi=100)
fig.patch.set_facecolor("white")

def fx(px):
    return px / W

def fy(py):
    return 1 - py / H

# background gradient image
ny, nx = 120, 360
yy, xx = np.mgrid[0:1:ny * 1j, 0:1:nx * 1j]
rr = np.sqrt(((xx - 0.55) / 0.72) ** 2 + ((yy - 0.55) / 0.95) ** 2)
grad = 0.09 + 0.28 * np.clip(1 - rr, 0, 1) ** 1.2

for i in range(12):
    row, col = divmod(i, 2)
    x0, x1 = COLS[col]
    y0, y1 = ROWS[row]
    org = ORIG[col]
    p1, per, ytop, ybot, leg_y, leg_dy, lab_r, tid_x = GEOM[i]

    bg = fig.add_axes([fx(x0), fy(y1), (x1 - x0) / W, (y1 - y0) / H])
    bg.imshow(grad, cmap="gray", vmin=0, vmax=1, aspect="auto", extent=(0, 1, 0, 1), interpolation="bilinear")
    bg.set_xlim(0, 1); bg.set_ylim(0, 1)
    bg.axis("off")
    bg.add_patch(Rectangle((0, 0), 1, 1, transform=bg.transAxes, fill=False, edgecolor="#a8a8a8", lw=1.0))

    # title
    tcx = (x0 + x1) / 2 + (23 if col == 0 else -1)
    fig.text(fx(tcx), fy(y0 + 24), TITLES[i], ha="center", va="center", fontsize=17,
             fontweight="bold", color="white", family="Liberation Sans")
    # zone label
    fig.text(fx(x1 - 4), fy(y1 - 11), ZONES[i], ha="right", va="center", fontsize=11.5,
             fontweight="bold", color="white", family="Lato")

    # data axes
    left = org + lab_r + 2
    right = org + 558
    ax = fig.add_axes([fx(left), fy(ybot), (right - left) / W, (ybot - ytop) / H])
    ax.patch.set_alpha(0)
    for s in ax.spines.values():
        s.set_visible(False)
    pos1 = org + p1
    ax.set_xlim(1 - (pos1 - left) / per, 1 + (right - pos1) / per)
    ymin, ymax, ystep = Y_AXES[i]
    ax.set_ylim(ymin, ymax)
    ax.set_yticks(np.arange(ymin, ymax + 0.1, ystep))
    ax.set_xticks([])
    ax.tick_params(axis="y", length=0, pad=2, labelsize=4.4, labelcolor="#a0a0a0")
    ax.axhline(0, color="#6e6e6e", lw=0.7, zorder=1)

    rows_ = PANEL_DATA[i]
    t = [r[0] for r in rows_]
    for k in range(3):
        vals = [r[k + 1] for r in rows_]
        ax.plot(t, vals, color=SERIES_COLORS[k], lw=1.2, zorder=2 + k, solid_joinstyle="round")

    for tk in range(1, X_LAST_TICK[i] + 1, 20):
        ax.annotate(str(tk), (tk, 0), xytext=(0, -2.5), textcoords="offset points", rotation=90,
                    ha="center", va="top", fontsize=4.4, color="#a0a0a0")

    # y label
    fig.text(fx(org + (15.6 if i == 10 else 24.5)), fy((ytop + ybot) / 2 - 4),
             "EPR - LRR - WLR  VALUES  (M/YEAR)", rotation=90, ha="center", va="center",
             fontsize=4.9, fontweight="bold", color="#d0d0d0")

    # transect id label at zero line
    tr = mtrans.blended_transform_factory(fig.transFigure, ax.transData)
    ax.text(fx(org + tid_x), 0, "TRANSECT ID", transform=tr, ha="left", va="center",
            fontsize=5.2, fontweight="bold", color="white", clip_on=False)

    # legend
    for k in range(3):
        ly = leg_y + leg_dy * k
        fig.add_artist(Line2D([fx(org + 566), fx(org + 582)], [fy(ly), fy(ly)],
                              color=SERIES_COLORS[k], lw=1.4))
        fig.text(fx(org + 583), fy(ly), SERIES_NAMES[k], ha="left", va="center",
                 fontsize=4.8, color="#d5d5d5")

# cut-off heading glyph at the very top (the reference shows only its descender)
fig.text(fx(342), fy(-2), "p", ha="center", va="baseline", fontsize=20, fontweight="bold", color="black")

fig.savefig("out.png", dpi=100, facecolor="white")
